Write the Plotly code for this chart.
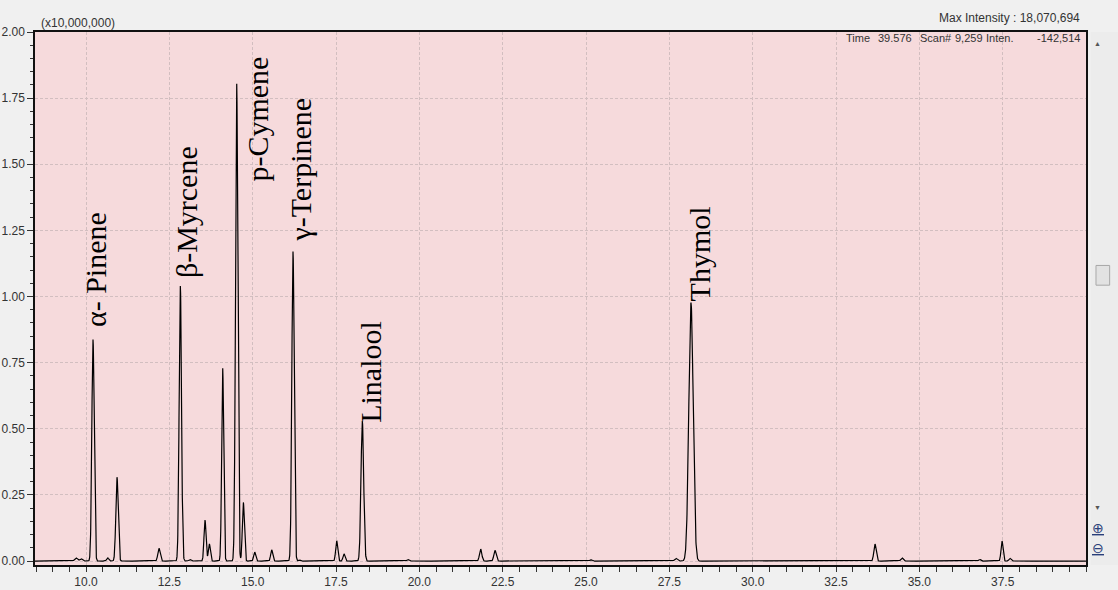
import numpy as np
import plotly.graph_objects as go

# ---- data (time in min, intensity in x10,000,000) ----
peak_times = [9.70, 9.85, 10.21, 10.65, 10.93, 12.19, 12.83, 13.12, 13.57, 13.70,
              14.10, 14.52, 14.72, 15.06, 15.57, 16.21, 16.40, 17.52, 17.74, 18.29,
              19.66, 21.84, 22.27, 25.15, 27.70, 28.15, 33.67, 34.48, 36.81, 37.48, 37.72]
peak_heights = [0.012, 0.009, 0.837, 0.012, 0.317, 0.048, 1.040, 0.006, 0.155, 0.065,
                0.730, 1.807, 0.222, 0.034, 0.042, 1.170, 0.005, 0.077, 0.027, 0.528,
                0.006, 0.045, 0.040, 0.005, 0.010, 0.977, 0.064, 0.012, 0.006, 0.076, 0.010]
peak_widths = [0.04, 0.04, 0.035, 0.03, 0.035, 0.035, 0.035, 0.03, 0.03, 0.03,
               0.03, 0.035, 0.03, 0.03, 0.03, 0.035, 0.03, 0.03, 0.03, 0.04,
               0.03, 0.035, 0.035, 0.03, 0.04, 0.065, 0.035, 0.035, 0.03, 0.03, 0.03]

label_texts = ["α- Pinene", "β-Myrcene", "p-Cymene", "γ-Terpinene", "Linalool", "Thymol"]
label_x = [10.27, 13.00, 15.16, 16.45, 18.55, 28.39]
label_y = [0.875, 1.062, 1.425, 1.200, 0.515, 0.972]

x_ticks = [10.0, 12.5, 15.0, 17.5, 20.0, 22.5, 25.0, 27.5, 30.0, 32.5, 35.0, 37.5]
y_ticks = [0.00, 0.25, 0.50, 0.75, 1.00, 1.25, 1.50, 1.75, 2.00]
t_start, t_end = 8.47, 40.0

# ---- build the trace from the peak table ----
t = np.arange(t_start, t_end, 0.004)
signal = np.zeros_like(t)
for c, h, w in zip(peak_times, peak_heights, peak_widths):
    signal += h * np.exp(-0.5 * ((t - c) / w) ** 2)

fig = go.Figure()
fig.add_trace(go.Scatter(x=t, y=signal, mode="lines",
                         line=dict(color="#000000", width=1.2),
                         hoverinfo="skip", showlegend=False))

tick_font = dict(family="Liberation Sans, Arial, sans-serif", size=12, color="#333333")
grid_col = "#D2BEC0"

fig.update_layout(
    width=1118, height=590,
    margin=dict(l=35, r=32, t=32, b=25, autoexpand=False),
    paper_bgcolor="#F0F0F0",
    plot_bgcolor="#F6DADC",
    showlegend=False,
    xaxis=dict(range=[t_start, t_end], tickvals=x_ticks,
               ticktext=[f"{v:.1f}" for v in x_ticks], automargin=False,
               ticks="outside", ticklen=5, tickcolor="#333333", tickwidth=1,
               minor=dict(dtick=0.5, tick0=0, ticks="outside", ticklen=5,
                          tickcolor="#333333", showgrid=False),
               showgrid=True, gridcolor=grid_col, griddash="3px,2px", gridwidth=1,
               showline=True, linecolor="#111111", linewidth=1.5, mirror=True,
               zeroline=False, tickfont=tick_font),
    yaxis=dict(range=[-0.015, 2.0], tickvals=y_ticks,
               ticktext=[f"{v:.2f}" for v in y_ticks], automargin=False,
               ticks="outside", ticklen=6, tickcolor="#333333", tickwidth=1,
               minor=dict(dtick=0.05, tick0=0, ticks="outside", ticklen=3,
                          tickcolor="#333333", showgrid=False),
               showgrid=True, gridcolor=grid_col, griddash="3px,2px", gridwidth=1,
               showline=True, linecolor="#111111", linewidth=1.5, mirror=True,
               zeroline=False, tickfont=tick_font, ticklabelstandoff=0),
)

annotations = []
for txt, lx, ly in zip(label_texts, label_x, label_y):
    annotations.append(dict(x=lx, y=ly, xref="x", yref="y", text=txt, showarrow=False,
                            textangle=-90, xanchor="center", yanchor="bottom",
                            font=dict(family="Liberation Serif, Times New Roman, serif",
                                      size=30, color="#000000")))

small_font = dict(family="Liberation Sans, Arial, sans-serif", size=12, color="#333333")
info_font = dict(family="Liberation Sans, Arial, sans-serif", size=11, color="#333333")
annotations.append(dict(x=0.004, y=1.0, xref="paper", yref="paper", text="(x10,000,000)",
                        showarrow=False, xanchor="left", yanchor="bottom", font=small_font))
annotations.append(dict(x=0.9962, y=1.01, xref="paper", yref="paper", text="Max Intensity : 18,070,694",
                        showarrow=False, xanchor="right", yanchor="bottom", font=small_font))
info = [("Time", 0.783, "center"), ("39.576", 0.818, "center"), ("Scan#", 0.857, "center"),
        ("9,259", 0.889, "center"), ("Inten.", 0.918, "center"), ("-142,514", 0.9962, "right")]
for txt, px, anc in info:
    annotations.append(dict(x=px, y=1.003, xref="paper", yref="paper", text=txt,
                            showarrow=False, xanchor=anc, yanchor="top", font=info_font))
# scrollbar glyphs on the right
annotations.append(dict(x=1.016, y=0.99, xref="paper", yref="paper", text="▲", showarrow=False,
                        font=dict(size=7, color="#555555")))
annotations.append(dict(x=1.016, y=0.095, xref="paper", yref="paper", text="▼", showarrow=False,
                        font=dict(size=7, color="#555555")))
annotations.append(dict(x=1.0195, y=0.048, xref="paper", yref="paper", text="<u>⊕</u>", showarrow=False,
                        font=dict(size=14, color="#2a3f7a")))
annotations.append(dict(x=1.0195, y=0.012, xref="paper", yref="paper", text="<u>⊖</u>", showarrow=False,
                        font=dict(size=14, color="#2a3f7a")))
fig.update_layout(annotations=annotations)

shapes = [
    dict(type="rect", xref="paper", yref="paper", x0=1.0045, x1=1.031, y0=0.0, y1=1.0,
         fillcolor="#ECECEC", line=dict(width=0), layer="below"),
    dict(type="rect", xref="paper", yref="paper", x0=1.0095, x1=1.0225, y0=0.525, y1=0.562,
         fillcolor="#E2E2E2", line=dict(color="#A8A8A8", width=1), layer="above"),
]
fig.update_layout(shapes=shapes)

fig.write_html("out.html")
